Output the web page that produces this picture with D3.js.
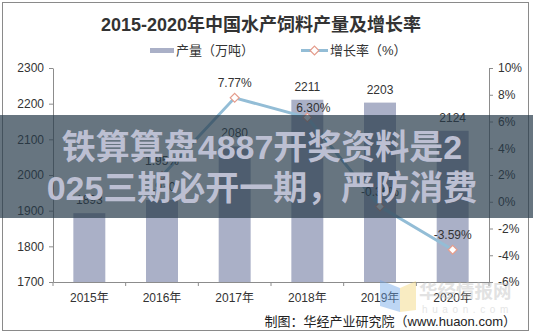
<!DOCTYPE html>
<html>
<head>
<meta charset="utf-8">
<script src="https://cdn.jsdelivr.net/npm/d3@7"></script>
<style>
  html, body { margin: 0; padding: 0; background: #fff; }
  svg { display: block; }
  text { font-family: "Liberation Sans", Arial, "Noto Sans CJK SC", sans-serif; }
  .cjk { font-family: "Liberation Sans", "Noto Sans CJK SC", sans-serif; }
</style>
</head>
<body>
<svg id="chart" width="533" height="335"></svg>
<script>
// Aquatic feed output (10k tonnes) and year-on-year growth (%)
const years = ["2015年", "2016年", "2017年", "2018年", "2019年", "2020年"];
const output = [1893, 1930, 2080, 2211, 2203, 2124];
const growth = [null, 1.95, 7.77, 6.30, -0.36, -3.59];
const leftTicks = [1700, 1800, 1900, 2000, 2100, 2200, 2300];
const rightTicks = [-6, -4, -2, 0, 2, 4, 6, 8, 10];

const svg = d3.select("#chart");
const W = 533, H = 335;
const plot = { left: 53, right: 489, top: 68, bottom: 282 };

const barColor = "#aab0c7";
const lineColor = "#93bdd6";
const markerStroke = "#e59c8c";
const axisColor = "#8c8c8c";
const textColor = "#333";

// frame
svg.append("rect").attr("x", 2.5).attr("y", 2.5).attr("width", 526).attr("height", 328)
  .attr("fill", "#fff").attr("stroke", "#8a8a8a").attr("stroke-width", 1);

// scales
const x = d3.scaleBand().domain(years).range([plot.left, plot.right])
  .paddingInner(0.56).paddingOuter(0.28);
const yL = d3.scaleLinear().domain([1700, 2300]).range([plot.bottom, plot.top]);
const yR = d3.scaleLinear().domain([-6, 10]).range([plot.bottom, plot.top]);
const cx = d => x(d) + x.bandwidth() / 2;

// bars
svg.append("g").selectAll("rect").data(years).join("rect")
  .attr("x", d => x(d))
  .attr("y", (d, i) => yL(output[i]))
  .attr("width", x.bandwidth())
  .attr("height", (d, i) => yL(1700) - yL(output[i]))
  .attr("fill", barColor);

// bar value labels
svg.append("g").selectAll("text").data(years).join("text")
  .attr("x", d => cx(d))
  .attr("y", (d, i) => yL(output[i]) - 9)
  .attr("text-anchor", "middle")
  .attr("font-size", 12).attr("fill", textColor)
  .text((d, i) => output[i]);

// growth line
const pts = years.map((d, i) => ({ year: d, v: growth[i] })).filter(p => p.v !== null);
svg.append("path").datum(pts)
  .attr("fill", "none").attr("stroke", lineColor).attr("stroke-width", 3)
  .attr("d", d3.line().x(p => cx(p.year)).y(p => yR(p.v)));

const diamond = d3.symbol().type(d3.symbolDiamond2).size(50);
svg.append("g").selectAll("path").data(pts).join("path")
  .attr("d", diamond)
  .attr("transform", p => `translate(${cx(p.year)},${yR(p.v)})`)
  .attr("fill", "#fff").attr("stroke", markerStroke).attr("stroke-width", 1.2);

// growth labels (2018 label nudged so it clears the bar label)
const nudge = { "2018年": [6, 6] };
svg.append("g").selectAll("text").data(pts).join("text")
  .attr("x", p => cx(p.year) + (nudge[p.year] ? nudge[p.year][0] : 0))
  .attr("y", p => yR(p.v) - 11 + (nudge[p.year] ? nudge[p.year][1] : 0))
  .attr("text-anchor", "middle")
  .attr("font-size", 12).attr("fill", textColor)
  .text(p => p.v.toFixed(2) + "%");

// axes
function styleAxis(g) {
  g.selectAll(".domain").attr("stroke", axisColor);
  g.selectAll(".tick line").attr("stroke", axisColor);
  g.selectAll(".tick text").attr("fill", textColor).attr("font-size", 12)
    .attr("font-family", "Liberation Sans, Arial, Noto Sans CJK SC, sans-serif");
}
svg.append("g").attr("transform", `translate(${plot.left},0)`)
  .call(d3.axisLeft(yL).tickValues(leftTicks).tickFormat(d3.format("d"))
    .tickSize(4).tickSizeOuter(0).tickPadding(5))
  .call(styleAxis);
svg.append("g").attr("transform", `translate(${plot.right},0)`)
  .call(d3.axisRight(yR).tickValues(rightTicks).tickSize(4).tickSizeOuter(0).tickPadding(5)
    .tickFormat(d => d + "%"))
  .call(styleAxis);
svg.append("g").attr("transform", `translate(0,${plot.bottom})`)
  .call(d3.axisBottom(x).tickSize(0).tickSizeOuter(0).tickPadding(11))
  .call(styleAxis);
// category separators on the x axis
const half = x.step() * x.paddingInner() / 2;
const seps = years.map(d => x(d) - half).concat([x(years[years.length - 1]) + x.bandwidth() + half]);
svg.append("g").selectAll("line").data(seps).join("line")
  .attr("x1", d => d).attr("x2", d => d)
  .attr("y1", plot.bottom).attr("y2", plot.bottom + 4)
  .attr("stroke", axisColor);

// title
svg.append("text").attr("x", 261).attr("y", 31).attr("text-anchor", "middle")
  .attr("class", "cjk")
  .attr("font-size", 18).attr("font-weight", "bold").attr("fill", "#333")
  .text("2015-2020年中国水产饲料产量及增长率");

// legend
const lg = svg.append("g");
lg.append("rect").attr("x", 150).attr("y", 48).attr("width", 24).attr("height", 5).attr("fill", barColor);
lg.append("text").attr("x", 176).attr("y", 55).attr("font-size", 13).attr("fill", textColor)
  .attr("class", "cjk").text("产量（万吨）");
lg.append("line").attr("x1", 301).attr("x2", 328).attr("y1", 50.5).attr("y2", 50.5)
  .attr("stroke", lineColor).attr("stroke-width", 3);
lg.append("path").attr("d", diamond).attr("transform", "translate(314.5,50.5)")
  .attr("fill", "#fff").attr("stroke", markerStroke).attr("stroke-width", 1.2);
lg.append("text").attr("x", 330).attr("y", 55).attr("font-size", 13).attr("fill", textColor)
  .attr("class", "cjk").text("增长率（%）");

// source note
svg.append("text").attr("x", 516).attr("y", 326).attr("text-anchor", "end")
  .attr("font-size", 13).attr("fill", "#222").attr("class", "cjk")
  .text("制图：华经产业研究院（www.huaon.com）");

// site logo, faint
const wm = svg.append("g").attr("opacity", 0.45);
wm.append("path").attr("d", "M380,280 L400,288 L400,312 L380,306 Z").attr("fill", "#6fa5e8");
wm.append("path").attr("d", "M400,288 L416,281 L416,310 L400,312 Z").attr("fill", "#f3d77a");
wm.append("text").attr("x", 419).attr("y", 298).attr("font-size", 18.5).attr("font-weight", "bold")
  .attr("fill", "#bfbfbf").attr("class", "cjk").text("华经情报网");
wm.append("text").attr("x", 422).attr("y", 313).attr("font-size", 10).attr("letter-spacing", 4.6)
  .attr("fill", "#c8c8c8").text("huaon.com");

// banner overlay
svg.append("rect").attr("x", 0).attr("y", 115).attr("width", W).attr("height", 103)
  .attr("fill", "rgb(38,58,74)").attr("fill-opacity", 0.7);
const bannerLines = ["铁算算盘4887开奖资料是2", "025三期必开一期，严防消费"];
svg.append("g").selectAll("text").data(bannerLines).join("text")
  .attr("x", 262).attr("y", (d, i) => 159 + i * 41)
  .attr("text-anchor", "middle")
  .attr("font-family", "Noto Sans CJK SC, sans-serif")
  .attr("font-size", 34).attr("font-weight", "bold")
  .attr("fill", "#bcbfd2")
  .text(d => d);
</script>
</body>
</html>
